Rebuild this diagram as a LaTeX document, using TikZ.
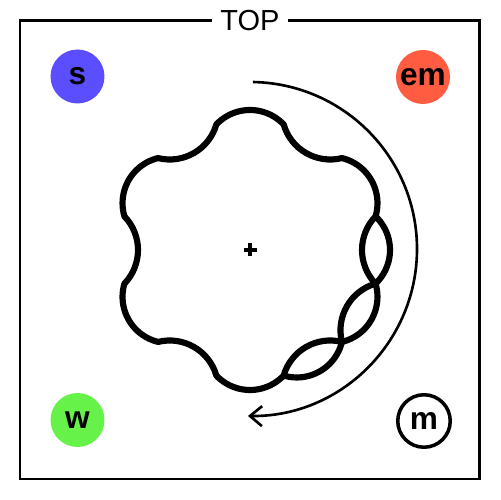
\documentclass[tikz,border=0pt]{standalone}
\usepackage{fontspec}
\setmainfont{Liberation Sans}
\usetikzlibrary{arrows.meta,calc}
\definecolor{sblue}{RGB}{90,78,255}
\definecolor{emred}{RGB}{255,92,66}
\definecolor{wgreen}{RGB}{102,242,72}

\begin{document}
\begin{tikzpicture}[x=0.02cm,y=0.02cm,
	letter/.style={circle,minimum size=1.08cm,inner sep=0pt,font=\fontsize{18}{18}\selectfont\bfseries},
	wave/.style={line width=3.5pt,line join=round}]
			\useasboundingbox (0,0) rectangle (500,500);
			\coordinate (c) at (250,250);
			\draw [line width=1.7pt] (20,21) rectangle (479,479);
			\node[fill=white,inner xsep=5pt,font=\fontsize{16.5}{16.5}\selectfont] (top) at (250,479) {TOP};
			\node[letter,fill=sblue] (s) at (77.5,423.5) {s};
			\node[letter,fill=emred] (em) at (423,423) {em};
			\node[letter,fill=wgreen] (w) at (77.5,80) {w};
			\node[letter,minimum size=1.05cm,draw,line width=2pt] (m) at (424,79) {m};
			\draw [line width=2.2pt] ($(c)+(-6.5,0)$) -- ($(c)+(6.5,0)$) ($(c)+(0,-6.5)$) -- ($(c)+(0,6.5)$);
			\draw [wave] ($(c)+(-15:130)$) \foreach \a in {0,60,...,300} {
				arc[start angle=\a+223.93,end angle=\a+136.07,radius=48.5]
				arc[start angle=\a-16.42,end angle=\a+76.42,radius=46.45]} -- cycle;
			\draw [wave] ($(c)+(-75:130)$) arc[start angle=-106.42,end angle=-13.58,radius=46.45]
				arc[start angle=193.93,end angle=106.07,radius=48.5]
				arc[start angle=-46.42,end angle=46.42,radius=46.45];
			\draw [line width=1.5pt,-{Straight Barb[length=0.24cm,width=0.4cm]}] ($(c)+(0,1)+(89:167)$) arc[start angle=89,end angle=-90.7,radius=167];
			\end{tikzpicture}
\end{document}
